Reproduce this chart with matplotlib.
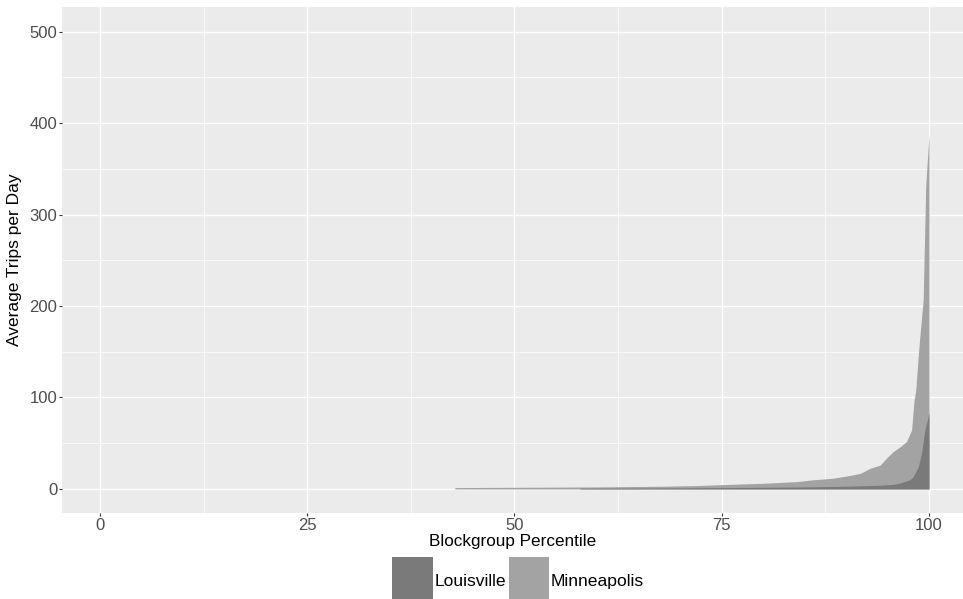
import numpy as np
import matplotlib
matplotlib.use("Agg")
import matplotlib.pyplot as plt
from matplotlib.ticker import MultipleLocator

plt.rcParams['font.family'] = ['Liberation Sans', 'DejaVu Sans']

# readings: percentile -> average trips per day
mpls_pct = [42.8, 50, 55, 60, 64, 68, 72, 76, 80, 84, 86, 88.4, 90, 91.7, 92.9,
            94.1, 94.9, 95.7, 96.5, 97.3, 97.9, 98.2, 98.4, 98.8, 99.3, 99.6, 99.8, 100]
mpls_val = [1.5, 1.8, 2.0, 2.2, 2.6, 3.0, 3.7, 5.0, 6.2, 8.0, 10, 11.7, 14, 17, 22.6,
            26, 34, 41, 46, 52, 64.5, 97, 108, 157, 207, 330, 360, 387]

lou_pct = [57.9, 65, 72, 80, 86, 90, 94, 95.7, 96.5, 97.7, 98.1, 98.7, 99.1, 99.5, 100]
lou_val = [0.8, 1.0, 1.3, 1.8, 2.3, 3.0, 4.0, 5.0, 6.5, 10, 13.5, 24, 39, 64.5, 83]

cities = ['Louisville', 'Minneapolis']
colors = ['#7a7a7a', '#a3a3a3']

fig = plt.figure(figsize=(9.63, 5.99), dpi=100)
ax = fig.add_axes([62/963, 1 - 513/599, 1 - 62/963, (513 - 7)/599])
ax.set_facecolor('#ebebeb')

h2 = ax.fill_between(mpls_pct, 0, mpls_val, color=colors[1], lw=0, zorder=2)
h1 = ax.fill_between(lou_pct, 0, lou_val, color=colors[0], lw=0, zorder=3)

ax.set_xlim(-4.58, 104.1)
ax.set_ylim(-26.3, 527)
ax.xaxis.set_major_locator(MultipleLocator(25))
ax.xaxis.set_minor_locator(MultipleLocator(12.5))
ax.yaxis.set_major_locator(MultipleLocator(100))
ax.yaxis.set_minor_locator(MultipleLocator(50))
ax.grid(which='major', color='white', lw=1.0, zorder=0)
ax.grid(which='minor', color='white', lw=0.5, zorder=0)
ax.set_axisbelow(True)
for s in ax.spines.values():
    s.set_visible(False)
ax.tick_params(which='major', length=2.5, color='#333333', labelsize=12, labelcolor='#4d4d4d', pad=1)
ax.tick_params(which='minor', length=0)

ax.set_xlabel('Blockgroup Percentile', fontsize=12.3, labelpad=1)
ax.set_ylabel('Average Trips per Day', fontsize=12.5, labelpad=5)

fig.legend([h1, h2], cities, loc='lower center', bbox_to_anchor=(0.538, -0.01), ncol=2,
           frameon=False, fontsize=12.6, handlelength=2.3, handleheight=3.8,
           handletextpad=0.1, columnspacing=0.15, borderaxespad=0, borderpad=0)

fig.savefig('out.png', dpi=100)
